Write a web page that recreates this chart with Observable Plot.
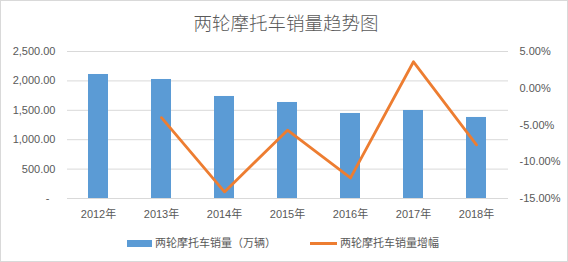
<!DOCTYPE html>
<html><head><meta charset="utf-8">
<script src="https://cdn.jsdelivr.net/npm/d3@7"></script>
<script src="https://cdn.jsdelivr.net/npm/@observablehq/plot@0.6"></script>
<style>
body{margin:0;background:#fff;}
#c{position:relative;width:568px;height:262px;overflow:hidden;background:#fff;font-family:"Liberation Sans","Noto Sans CJK SC",sans-serif;}
#frame{position:absolute;left:0;top:0;width:568px;height:262px;box-sizing:border-box;border:1px solid #d9d9d9;pointer-events:none;}
#title{position:absolute;top:13px;left:0;width:572px;text-align:center;font-size:18.5px;line-height:18.5px;color:#595959;font-weight:300;font-family:"Noto Sans CJK SC",sans-serif;}
.lg{position:absolute;font-size:11px;line-height:11px;color:#595959;font-family:"Noto Sans CJK SC",sans-serif;white-space:nowrap;}
.sw{position:absolute;}
#plot{position:absolute;left:0;top:0;}
</style></head>
<body>
<div id="c">
  <div id="plot"></div>
  <div id="title">两轮摩托车销量趋势图</div>
  <div class="sw" style="left:127px;top:240px;width:25px;height:7px;background:#5B9BD5"></div>
  <div class="lg" style="left:155px;top:237px">两轮摩托车销量（万辆）</div>
  <div class="sw" style="left:310px;top:242px;width:27px;height:3px;background:#ED7D31"></div>
  <div class="lg" style="left:340px;top:237px">两轮摩托车销量增幅</div>
  <div id="frame"></div>
</div>
<script>
const years = ["2012年","2013年","2014年","2015年","2016年","2017年","2018年"];
const sales = [2109, 2024, 1735, 1633, 1446, 1497, 1378];
const growth = [null, -4.0, -14.1, -5.7, -12.2, 3.6, -7.7];
const leftTicks = [0, 500, 1000, 1500, 2000, 2500];
const rightTicks = [5, 0, -5, -10, -15];

const toLeft = p => (p + 15) / 20 * 2500;
const fromLeft = v => v / 2500 * 20 - 15;

const table = years.map((y, i) => ({year: y, sales: sales[i], growth: growth[i]}));
const lineData = table.filter(d => d.growth != null);

const chart = Plot.plot({
  width: 568, height: 262,
  marginTop: 51, marginBottom: 64, marginLeft: 67, marginRight: 60,
  style: {fontFamily: '"Liberation Sans","Noto Sans CJK SC",sans-serif', fontSize: "11px", color: "#595959", background: "transparent"},
  x: {domain: years, paddingInner: 0.68, paddingOuter: 0.34, label: null},
  y: {domain: [0, 2500], label: null},
  marks: [
    Plot.gridY(leftTicks, {stroke: "#d9d9d9", strokeOpacity: 1}),
    Plot.barY(table, {x: "year", y: "sales", fill: "#5B9BD5"}),
    Plot.lineY(lineData, {x: "year", y: d => toLeft(d.growth), stroke: "#ED7D31", strokeWidth: 2.8, strokeLinejoin: "round", strokeLinecap: "round"}),
    Plot.axisY({ticks: leftTicks, tickSize: 0, tickPadding: 12, label: null,
      tickFormat: d => d === 0 ? "-\u00a0\u00a0" : d3.format(",.2f")(d)}),
    Plot.axisY({anchor: "right", ticks: rightTicks.map(toLeft), tickSize: 0, tickPadding: 11, label: null,
      tickFormat: v => fromLeft(v).toFixed(2) + "%"}),
    Plot.axisX({tickSize: 0, tickPadding: 12, label: null})
  ]
});
document.getElementById("plot").appendChild(chart);
</script>
</body></html>
